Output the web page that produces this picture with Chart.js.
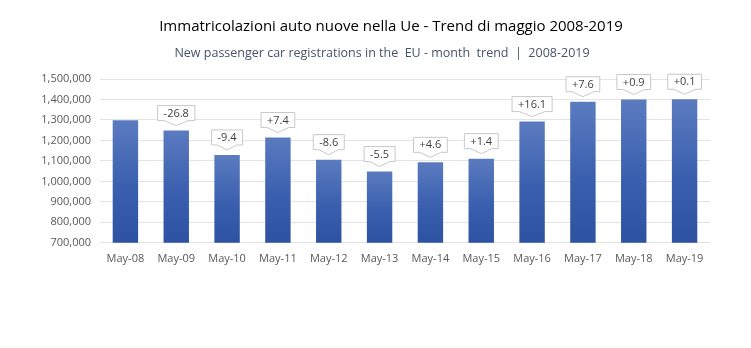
<!DOCTYPE html>
<html>
<head>
<meta charset="utf-8">
<script src="https://cdn.jsdelivr.net/npm/chart.js@4.4.1/dist/chart.umd.min.js"></script>
<style>
  html, body { margin: 0; padding: 0; background: #fff; }
  #wrap { width: 751px; height: 348px; }
</style>
</head>
<body>
<div id="wrap"><canvas id="chart"></canvas></div>
<script>
// chart data
const months = ['May-08', 'May-09', 'May-10', 'May-11', 'May-12', 'May-13',
                'May-14', 'May-15', 'May-16', 'May-17', 'May-18', 'May-19'];
const registrations = [1298000, 1248000, 1129000, 1214000, 1106000, 1048000,
                       1093000, 1111000, 1292000, 1389000, 1400000, 1401000];
const changeLabels = ['', '-26.8', '-9.4', '+7.4', '-8.6', '-5.5',
                      '+4.6', '+1.4', '+16.1', '+7.6', '+0.9', '+0.1'];
const yTicks = { min: 700000, max: 1500000, step: 100000 };

const titleText = 'Immatricolazioni auto nuove nella Ue - Trend di maggio 2008-2019';
const subtitleText = 'New passenger car registrations in the  EU - month  trend  |  2008-2019';
const fontFamily = '"Open Sans", "Noto Sans", sans-serif';

// per-bar vertical gradient, lighter at the top
function barGradient(ctx) {
    const chart = ctx.chart;
    if (!chart.chartArea || ctx.type !== 'data') return '#3b5fad';
    const y = chart.scales.y;
    const top = y.getPixelForValue(ctx.raw);
    const bottom = y.getPixelForValue(yTicks.min);
    const g = chart.ctx.createLinearGradient(0, top, 0, bottom);
    g.addColorStop(0, '#5b7bc0');
    g.addColorStop(0.55, '#3a5fae');
    g.addColorStop(1, '#2d52a1');
    return g;
}

// title + subtitle, centred a bit right of the canvas middle like the original
const headingPlugin = {
    id: 'heading',
    afterDraw(chart) {
        const ctx = chart.ctx;
        ctx.save();
        ctx.textAlign = 'center';
        ctx.textBaseline = 'middle';
        ctx.fillStyle = '#000000';
        ctx.font = '15px ' + fontFamily;
        ctx.fillText(titleText, 391, 27);
        ctx.fillStyle = '#44546a';
        ctx.font = '12.5px ' + fontFamily;
        ctx.fillText(subtitleText, 382, 53);
        ctx.restore();
    }
};

// callout boxes with the yearly % change
const calloutPlugin = {
    id: 'callouts',
    afterDatasetsDraw(chart) {
        const ctx = chart.ctx;
        const meta = chart.getDatasetMeta(0);
        ctx.save();
        ctx.font = '11px ' + fontFamily;
        ctx.textAlign = 'center';
        ctx.textBaseline = 'middle';
        meta.data.forEach((bar, i) => {
            const text = changeLabels[i];
            if (!text) return;
            const w = ctx.measureText(text).width + 12;
            const rectH = 15;
            const tipH = 5;
            const tipY = bar.y - 5;
            const rectBottom = tipY - tipH;
            const rectTop = rectBottom - rectH;
            const left = bar.x - w / 2;
            const right = bar.x + w / 2;
            const half = w * 0.32;

            ctx.beginPath();
            ctx.moveTo(left, rectTop);
            ctx.lineTo(right, rectTop);
            ctx.lineTo(right, rectBottom);
            ctx.lineTo(bar.x + half, rectBottom);
            ctx.lineTo(bar.x, tipY);
            ctx.lineTo(bar.x - half, rectBottom);
            ctx.lineTo(left, rectBottom);
            ctx.closePath();
            ctx.fillStyle = '#ffffff';
            ctx.fill();
            ctx.strokeStyle = '#c8c8c8';
            ctx.lineWidth = 1;
            ctx.stroke();

            ctx.fillStyle = '#404040';
            ctx.fillText(text, bar.x, rectTop + rectH / 2 + 0.5);
        });
        ctx.restore();
    }
};

new Chart(document.getElementById('chart'), {
    type: 'bar',
    data: {
        labels: months,
        datasets: [{
            data: registrations,
            backgroundColor: barGradient,
            borderWidth: 0,
            barPercentage: 0.5,
            categoryPercentage: 1.0
        }]
    },
    options: {
        responsive: true,
        maintainAspectRatio: false,
        animation: false,
        layout: { padding: { top: 79, right: 41, bottom: 82, left: 0 } },
        plugins: {
            legend: { display: false },
            tooltip: { enabled: false }
        },
        scales: {
            x: {
                grid: { display: false },
                border: { display: false },
                ticks: {
                    color: '#595959',
                    font: { family: fontFamily, size: 11 },
                    padding: 1,
                    maxRotation: 0
                }
            },
            y: {
                min: yTicks.min,
                max: yTicks.max,
                afterFit(axis) { axis.width = 100; },
                grid: { color: '#e3e3e3', drawTicks: false },
                border: { display: false },
                ticks: {
                    stepSize: yTicks.step,
                    color: '#595959',
                    font: { family: fontFamily, size: 11 },
                    padding: 9,
                    callback: v => v.toLocaleString('en-US')
                }
            }
        }
    },
    plugins: [calloutPlugin, headingPlugin]
});
</script>
</body>
</html>
